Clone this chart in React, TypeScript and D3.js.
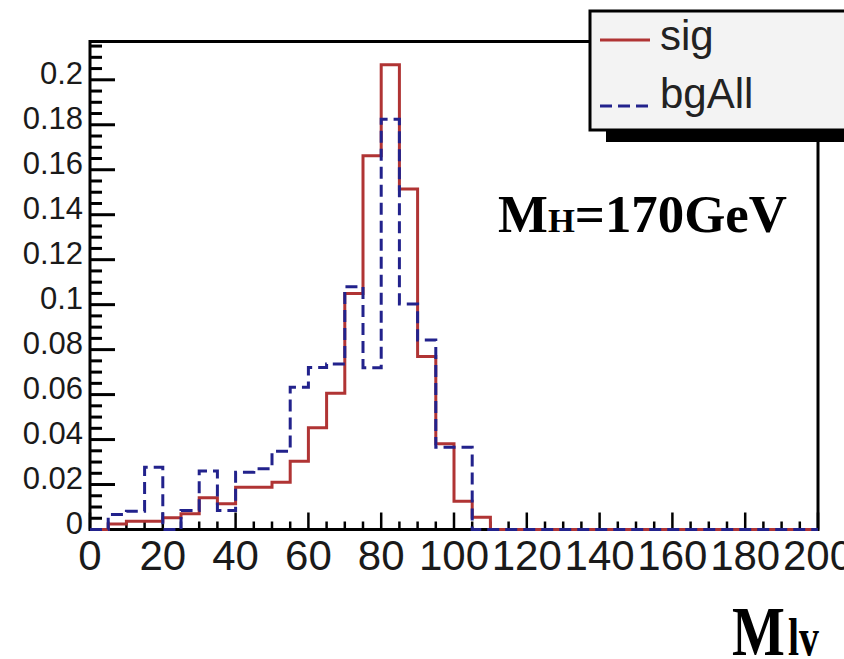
import React from "react";
import * as d3 from "d3";

const binEdges: number[] = d3.range(0, 200, 5);
const sigValues: number[] = [
  0, 0.0025, 0.0037, 0.0037, 0.0052, 0.007, 0.0141, 0.0114, 0.0188, 0.0188,
  0.021, 0.0304, 0.0452, 0.0606, 0.105, 0.1662, 0.2067, 0.1514, 0.0769, 0.0381,
  0.0126, 0.0055, 0, 0, 0, 0, 0, 0, 0, 0,
  0, 0, 0, 0, 0, 0, 0, 0, 0, 0,
];
const bgAllValues: number[] = [
  0, 0.0067, 0.0081, 0.0277, 0, 0.0084, 0.026, 0.0084, 0.0255, 0.027,
  0.0348, 0.0633, 0.0721, 0.0736, 0.108, 0.0719, 0.1825, 0.1003, 0.0843, 0.0366,
  0.0366, 0, 0, 0, 0, 0, 0, 0, 0, 0,
  0, 0, 0, 0, 0, 0, 0, 0, 0, 0,
];
const yTickLabels: string[] = ["0", "0.02", "0.04", "0.06", "0.08", "0.1", "0.12", "0.14", "0.16", "0.18", "0.2"];
const xTickLabels: string[] = ["0", "20", "40", "60", "80", "100", "120", "140", "160", "180", "200"];
const legendLabels: string[] = ["sig", "bgAll"];

const W = 844;
const H = 659;
const RED = "#b03434";
const BLUE = "#22228c";

export default function App() {
  const x = d3.scaleLinear().domain([0, 200]).range([90, 818]);
  const yMax = 1.05 * d3.max(sigValues)!;
  const y = d3.scaleLinear().domain([0, yMax]).range([529.5, 41.5]);

  const stepLine = d3
    .line<[number, number]>()
    .x((d) => x(d[0]))
    .y((d) => y(d[1]))
    .curve(d3.curveStepAfter);

  const pts = (vals: number[]): [number, number][] => {
    const p: [number, number][] = binEdges.map((e, i) => [e, vals[i]]);
    p.push([200, vals[vals.length - 1]]);
    return p;
  };

  const yMajor = yTickLabels.map((t) => +t);
  const yMinor = d3.range(0, yMax, 0.005).filter((v) => Math.abs(v / 0.02 - Math.round(v / 0.02)) > 1e-6);
  const xMajor = xTickLabels.map((t) => +t);
  const xMinor = d3.range(0, 200, 5).filter((v) => v % 20 !== 0);

  const sans = "'Liberation Sans', Arial, sans-serif";
  const serif = "'Liberation Serif', 'Times New Roman', serif";

  return (
    <svg
      width={W}
      height={H}
      style={{ position: "absolute", left: 0, top: 0, background: "#fff" }}
    >
      <rect x={0} y={0} width={W} height={H} fill="#fff" />
      {/* frame */}
      <rect
        x={x(0)}
        y={y(yMax)}
        width={x(200) - x(0)}
        height={y(0) - y(yMax)}
        fill="none"
        stroke="#000"
        strokeWidth={3}
      />
      {/* y ticks */}
      {yMajor.map((v) => (
        <line key={"ym" + v} x1={x(0)} x2={x(0) + 25} y1={y(v)} y2={y(v)} stroke="#000" strokeWidth={3} />
      ))}
      {yMinor.map((v) => (
        <line key={"yn" + v} x1={x(0)} x2={x(0) + 12} y1={y(v)} y2={y(v)} stroke="#000" strokeWidth={3} />
      ))}
      {/* x ticks */}
      {xMajor.map((v) => (
        <line key={"xm" + v} x1={x(v)} x2={x(v)} y1={y(0)} y2={y(0) - 17} stroke="#000" strokeWidth={2.5} />
      ))}
      {xMinor.map((v) => (
        <line key={"xn" + v} x1={x(v)} x2={x(v)} y1={y(0)} y2={y(0) - 8} stroke="#000" strokeWidth={2.5} />
      ))}
      {/* y labels */}
      {yTickLabels.map((t) => (
        <text
          key={"yl" + t}
          x={83}
          y={y(+t) + 4}
          textAnchor="end"
          fontFamily={sans}
          fontSize={31}
          fill="#1a1a1a"
        >
          {t}
        </text>
      ))}
      {/* x labels */}
      {xTickLabels.map((t) => (
        <text
          key={"xl" + t}
          x={x(+t)}
          y={570}
          textAnchor="middle"
          fontFamily={sans}
          fontSize={42}
          fill="#1a1a1a"
        >
          {t}
        </text>
      ))}
      {/* histograms */}
      <path d={stepLine(pts(sigValues)) || ""} fill="none" stroke={RED} strokeWidth={3} />
      <path
        d={stepLine(pts(bgAllValues)) || ""}
        fill="none"
        stroke={BLUE}
        strokeWidth={3}
        strokeDasharray="12,6"
      />
      {/* legend */}
      <rect x={606} y={26} width={260} height={116} fill="#000" />
      <rect x={590} y={11} width={270} height={119} fill="#f3f3f3" stroke="#000" strokeWidth={3} />
      <line x1={600} x2={650} y1={40} y2={40} stroke={RED} strokeWidth={3} />
      <line x1={600} x2={650} y1={106} y2={106} stroke={BLUE} strokeWidth={3} strokeDasharray="12,6" />
      <text x={660} y={50} fontFamily={sans} fontSize={42} fill="#222">
        {legendLabels[0]}
      </text>
      <text x={660} y={108} fontFamily={sans} fontSize={42} fill="#222">
        {legendLabels[1]}
      </text>
      {/* annotation */}
      <text
        x={498}
        y={232}
        fontFamily={serif}
        fontWeight="bold"
        fontSize={52}
        fill="#000"
        textLength={289}
        lengthAdjust="spacingAndGlyphs"
      >
        M<tspan fontSize={34}>H</tspan>=170GeV
      </text>
      {/* axis title */}
      <text
        transform="translate(732,655) scale(0.8,1)"
        fontFamily={serif}
        fontWeight="bold"
        fontSize={70}
        fill="#000"
      >
        M
      </text>
      <text
        transform="translate(788,655) scale(0.75,1)"
        fontFamily={serif}
        fontWeight="bold"
        fontSize={53}
        fill="#000"
      >
        lv
      </text>
    </svg>
  );
}
